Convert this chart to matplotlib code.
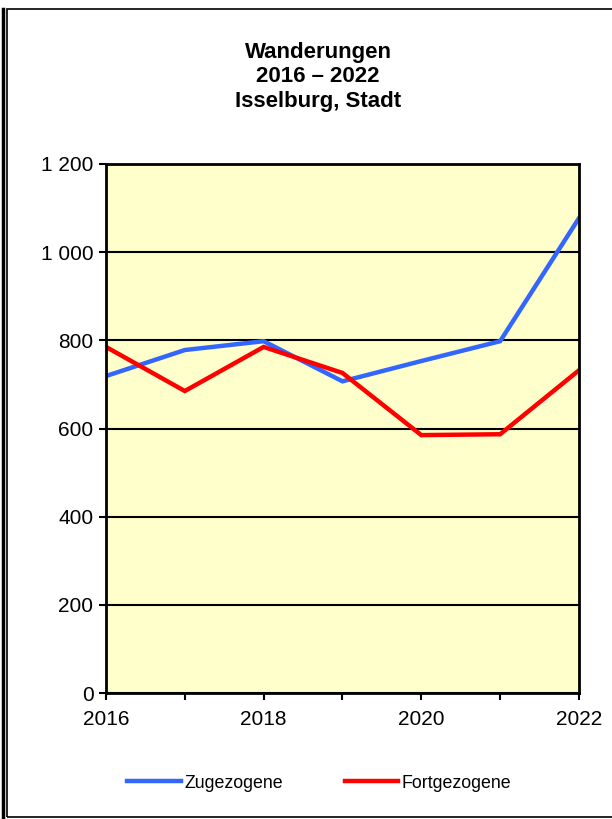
import matplotlib.pyplot as plt
from matplotlib.patches import Rectangle
from matplotlib.lines import Line2D

plt.rcParams['font.family'] = ['Liberation Sans', 'DejaVu Sans']

jahre = [2016, 2017, 2018, 2019, 2020, 2021, 2022]
zugezogene = [719, 778, 798, 707, 753, 798, 1077]
fortgezogene = [785, 685, 785, 726, 585, 587, 732]
y_ticks = [0, 200, 400, 600, 800, 1000, 1200]
y_labels = ["0", "200", "400", "600", "800", "1 000", "1 200"]
x_labels = ["2016", "", "2018", "", "2020", "", "2022"]

fig = plt.figure(figsize=(6.12, 8.19), dpi=100)
ax = fig.add_axes([0.1732, 0.1538, 0.7728, 0.646])
ax.set_facecolor("#FFFFCC")

ax.plot(jahre, zugezogene, color="#3366FF", lw=3.2, label="Zugezogene", solid_joinstyle="miter")
ax.plot(jahre, fortgezogene, color="#FF0000", lw=3.2, label="Fortgezogene", solid_joinstyle="miter")

ax.set_xlim(2016, 2022)
ax.set_ylim(0, 1200)
ax.set_yticks(y_ticks)
ax.set_yticklabels(y_labels)
ax.set_xticks(jahre)
ax.set_xticklabels(x_labels)
ax.yaxis.grid(True, color="black", lw=1.5)
ax.set_axisbelow(True)
for s in ax.spines.values():
    s.set_linewidth(2)
ax.tick_params(axis="both", direction="out", length=5, width=1.5, labelsize=15, pad=4)
ax.tick_params(axis="x", pad=7)

fig.text(0.52, 1 - 77 / 819, "Wanderungen\n2016 \u2013 2022\nIsselburg, Stadt", ha="center", va="center",
         fontsize=16, fontweight="bold", linespacing=1.22)

fig.legend(loc="center", bbox_to_anchor=(0.522, 1 - 783 / 819), ncol=2, frameon=False,
           fontsize=12.8, handlelength=3.0, handletextpad=0.2, columnspacing=3.5)

# Rahmen
fig.patches.append(Rectangle((7 / 612, 2 / 819), 1.0, 808 / 819, transform=fig.transFigure,
                             fill=False, edgecolor="black", lw=1.2))
fig.lines.append(Line2D([2.5 / 612, 2.5 / 612], [0, 1 - 9 / 819], transform=fig.transFigure,
                        color="black", lw=2.5))

fig.savefig("out.png", dpi=100)
